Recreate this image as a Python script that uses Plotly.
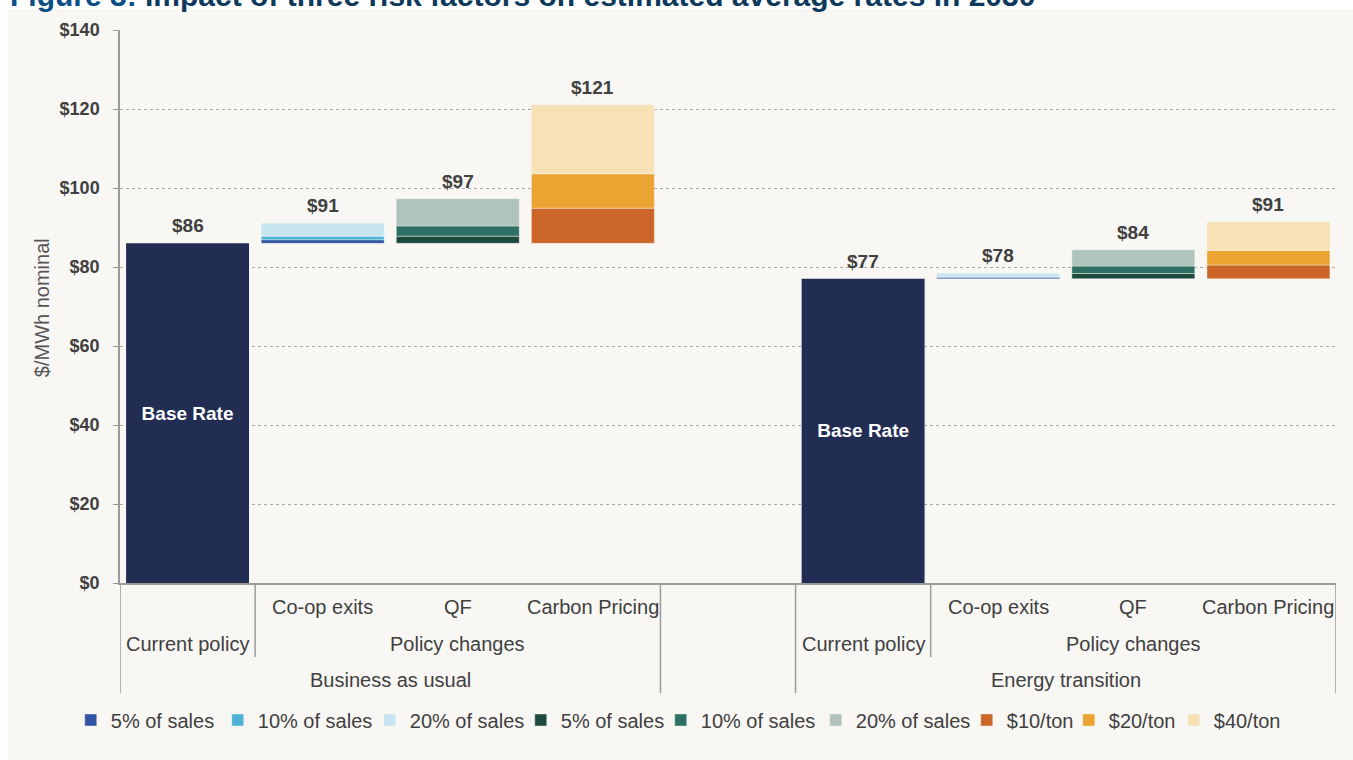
import plotly.graph_objects as go

# ---------------- data ----------------
categories = ["BAU-Current policy", "BAU-Co-op exits", "BAU-QF", "BAU-Carbon Pricing", "gap",
              "ET-Current policy", "ET-Co-op exits", "ET-QF", "ET-Carbon Pricing"]
level1_labels = ["", "Co-op exits", "QF", "Carbon Pricing", "", "", "Co-op exits", "QF", "Carbon Pricing"]
scenarios = ["Business as usual", "Energy transition"]
base_rate = [86, 77]                      # $/MWh, current policy
coop_5 = [0.9, 0.4]
coop_10 = [0.9, 0.2]
coop_20 = [3.3, 0.8]
qf_5 = [1.8, 1.35]
qf_10 = [2.6, 1.9]
qf_20 = [6.9, 4.1]
carbon_10 = [8.9, 3.5]
carbon_20 = [8.7, 3.7]
carbon_40 = [17.5, 7.2]
y_ticks = [0, 20, 40, 60, 80, 100, 120, 140]

# ---------------- styling ----------------
BG = "#f8f7f4"
TXT = "#404040"
GRID = "#a8a8a8"
AX = "#9a9a9a"
FONT = "Liberation Sans, Arial, sans-serif"
legend_widths = [102, 107, 106, 95, 110, 106, 57, 60, 85]

fig = go.Figure()

base_x = [categories[0], categories[5]]
fig.add_trace(go.Bar(
    x=base_x, y=base_rate, marker=dict(color="#222d53", line=dict(width=0)),
    text=["<b>Base Rate</b>"] * 2, textposition="inside", insidetextanchor="middle",
    textangle=0, insidetextfont=dict(color="white", size=19, family=FONT),
    showlegend=False, hoverinfo="skip"))

groups = [
    (categories[1], categories[6], [("5% of sales", coop_5, "#2e55a4"),
                                    ("10% of sales", coop_10, "#4db3d6"),
                                    ("20% of sales", coop_20, "#c5e4ee")]),
    (categories[2], categories[7], [("5% of sales", qf_5, "#1d4a3e"),
                                    ("10% of sales", qf_10, "#2e7065"),
                                    ("20% of sales", qf_20, "#afc4bc")]),
    (categories[3], categories[8], [("$10/ton", carbon_10, "#cc6628"),
                                    ("$20/ton", carbon_20, "#eba331"),
                                    ("$40/ton", carbon_40, "#f7e2b6")]),
]

totals = {}
k = 0
for cat_b, cat_e, segs in groups:
    cum = list(base_rate)
    for name, vals, color in segs:
        fig.add_trace(go.Bar(
            x=[cat_b, cat_e], y=vals, base=list(cum), name=name,
            marker=dict(color=color, line=dict(width=0.6, color="rgba(248,247,244,0.7)")),
            legendwidth=legend_widths[k], hoverinfo="skip"))
        k += 1
        cum = [c + v for c, v in zip(cum, vals)]
    totals[cat_b] = cum[0]
    totals[cat_e] = cum[1]
totals[categories[0]] = base_rate[0]
totals[categories[5]] = base_rate[1]

annotations = []
# value labels
for cat, tot in totals.items():
    annotations.append(dict(x=cat, y=tot, xref="x", yref="y", text=f"<b>${round(tot)}</b>",
                            showarrow=False, yanchor="bottom", yshift=5,
                            font=dict(size=19, color=TXT, family=FONT)))

# category labels (three levels)
for cat, lab in zip(categories, level1_labels):
    if lab:
        annotations.append(dict(x=cat, y=-0.043, xref="x", yref="paper", text=lab, showarrow=False,
                                yanchor="middle", font=dict(size=20, color=TXT, family=FONT)))
for i0 in (0, 5):
    annotations.append(dict(x=categories[i0], y=-0.111, xref="x", yref="paper", text="Current policy",
                            showarrow=False, yanchor="middle", font=dict(size=20, color=TXT, family=FONT)))
    annotations.append(dict(x=i0 + 2, y=-0.111, xref="x", yref="paper", text="Policy changes",
                            showarrow=False, yanchor="middle", font=dict(size=20, color=TXT, family=FONT)))
for i0, sc in zip((0, 5), scenarios):
    annotations.append(dict(x=i0 + 1.5, y=-0.176, xref="x", yref="paper", text=sc,
                            showarrow=False, yanchor="middle", font=dict(size=20, color=TXT, family=FONT)))

# y-axis title
annotations.append(dict(x=-0.0641, y=0.497, xref="paper", yref="paper", xanchor="center", yanchor="middle",
                        text="$/MWh nominal", textangle=-90, showarrow=False,
                        font=dict(size=20, color="#555555", family=FONT)))
# title (cut at top)
annotations.append(dict(x=-0.092, y=1.029, xref="paper", yref="paper", xanchor="left", yanchor="bottom",
                        text="<b><span style='color:#0b4f86'>Figure 3:</span> Impact of three risk factors on estimated average rates in 2030</b>",
                        showarrow=False, font=dict(size=30, color="#0d3a5c", family=FONT)))

shapes = []
# white strips outside the gray panel
shapes.append(dict(type="rect", xref="paper", yref="paper", x0=-0.2, x1=1.2, y0=1.038, y1=1.2,
                   fillcolor="white", line=dict(width=0), layer="below"))
shapes.append(dict(type="rect", xref="paper", yref="paper", x0=-0.2, x1=-0.0921, y0=-0.5, y1=1.2,
                   fillcolor="white", line=dict(width=0), layer="below"))
# separators
for xpos, ylow in [(-0.5, -0.199), (0.5, -0.134), (3.5, -0.199), (4.5, -0.199), (5.5, -0.134), (8.5, -0.199)]:
    shapes.append(dict(type="line", xref="x", yref="paper", x0=xpos, x1=xpos, y0=0, y1=ylow,
                       line=dict(color=AX, width=1.5)))

fig.update_layout(
    width=1353, height=760,
    margin=dict(l=120, r=17, t=30, b=177),
    paper_bgcolor=BG, plot_bgcolor=BG,
    barmode="overlay", bargap=0.09,
    font=dict(family=FONT, color=TXT),
    xaxis=dict(type="category", categoryorder="array", categoryarray=categories, range=[-0.5, 8.5],
               showticklabels=False, showgrid=False, showline=True, linecolor=AX, linewidth=1.5,
               ticks="", zeroline=False, fixedrange=True),
    yaxis=dict(range=[0, 140], tickvals=y_ticks, ticktext=[f"<b>${v}</b>" for v in y_ticks],
               showgrid=True, gridcolor=GRID, griddash="dot", gridwidth=1,
               showline=True, linecolor=AX, linewidth=1.5, ticks="outside", ticklen=5, tickcolor=AX,
               tickfont=dict(size=18, color=TXT, family=FONT), ticklabelstandoff=10,
               zeroline=False, fixedrange=True),
    legend=dict(orientation="h", x=-0.0405, xanchor="left", y=-0.2477, yanchor="middle",
                font=dict(size=20, color=TXT, family=FONT), bgcolor="rgba(0,0,0,0)", itemwidth=30),
    annotations=annotations, shapes=shapes, showlegend=True,
)

fig.write_html("out.html", config={"displayModeBar": False},
               post_script="document.body.style.margin='0';document.body.style.overflow='hidden';")
